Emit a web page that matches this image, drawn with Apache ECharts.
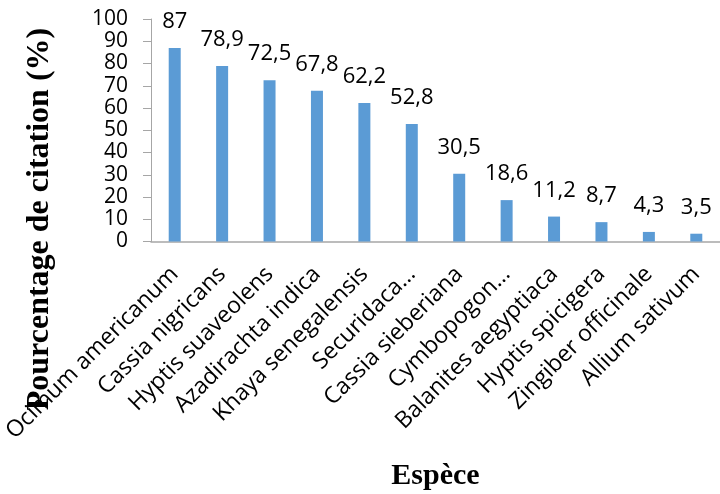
<!DOCTYPE html>
<html>
<head>
<meta charset="utf-8">
<script src="https://cdn.jsdelivr.net/npm/echarts@6/dist/echarts.min.js"></script>
<style>
  html, body { margin: 0; padding: 0; background: #fff; }
  #chart { width: 720px; height: 494px; }
</style>
</head>
<body>
<div id="chart"></div>
<script>
// Species and their citation percentages
const especes = [
  'Ocimum americanum', 'Cassia nigricans', 'Hyptis suaveolens', 'Azadirachta indica',
  'Khaya senegalensis', 'Securidaca…', 'Cassia sieberiana', 'Cymbopogon…',
  'Balanites aegyptiaca', 'Hyptis spicigera', 'Zingiber officinale', 'Allium sativum'
];
const citation = [87, 78.9, 72.5, 67.8, 62.2, 52.8, 30.5, 18.6, 11.2, 8.7, 4.3, 3.5];
const yTicks = { min: 0, max: 100, interval: 10 };

const sans = '"Open Sans", "Noto Sans", sans-serif';
const serif = '"Liberation Serif", "DejaVu Serif", serif';
const axisGrey = '#A6A6A6';

const chart = echarts.init(document.getElementById('chart'));
chart.setOption({
  animation: false,
  grid: { left: 151, top: 19, width: 576, height: 222.5, containLabel: false },
  xAxis: {
    type: 'category',
    data: especes,
    name: 'Espèce',
    nameLocation: 'middle',
    nameGap: 220,
    nameTextStyle: { fontFamily: serif, fontWeight: 'bold', fontSize: 30, color: '#000' },
    axisLine: { lineStyle: { color: axisGrey, width: 1.5 } },
    axisTick: { show: false },
    axisLabel: {
      interval: 0, rotate: 45, margin: 29,
      fontFamily: sans, fontSize: 23, color: '#000'
    }
  },
  yAxis: {
    type: 'value',
    min: yTicks.min, max: yTicks.max, interval: yTicks.interval,
    axisLine: { show: true, lineStyle: { color: axisGrey, width: 1 } },
    axisTick: { show: true, length: 8, lineStyle: { color: axisGrey } },
    splitLine: { show: false },
    axisLabel: { margin: 23, fontFamily: sans, fontSize: 21, color: '#000' }
  },
  graphic: [{
    type: 'text',
    x: 40, y: 219,
    rotation: Math.PI / 2,
    z: 100,
    style: {
      text: 'Pourcentage de citation (%)',
      font: 'bold 32px ' + serif,
      fill: '#000',
      align: 'center', verticalAlign: 'middle',
      textAlign: 'center', textVerticalAlign: 'middle'
    }
  }],
  series: [{
    type: 'bar',
    data: citation,
    barWidth: 12,
    itemStyle: { color: '#5B9BD5' },
    label: {
      show: true, position: 'top', distance: 15,
      fontFamily: sans, fontSize: 22, color: '#000',
      formatter: p => String(p.value).replace('.', ',')
    }
  }]
});
</script>
</body>
</html>
